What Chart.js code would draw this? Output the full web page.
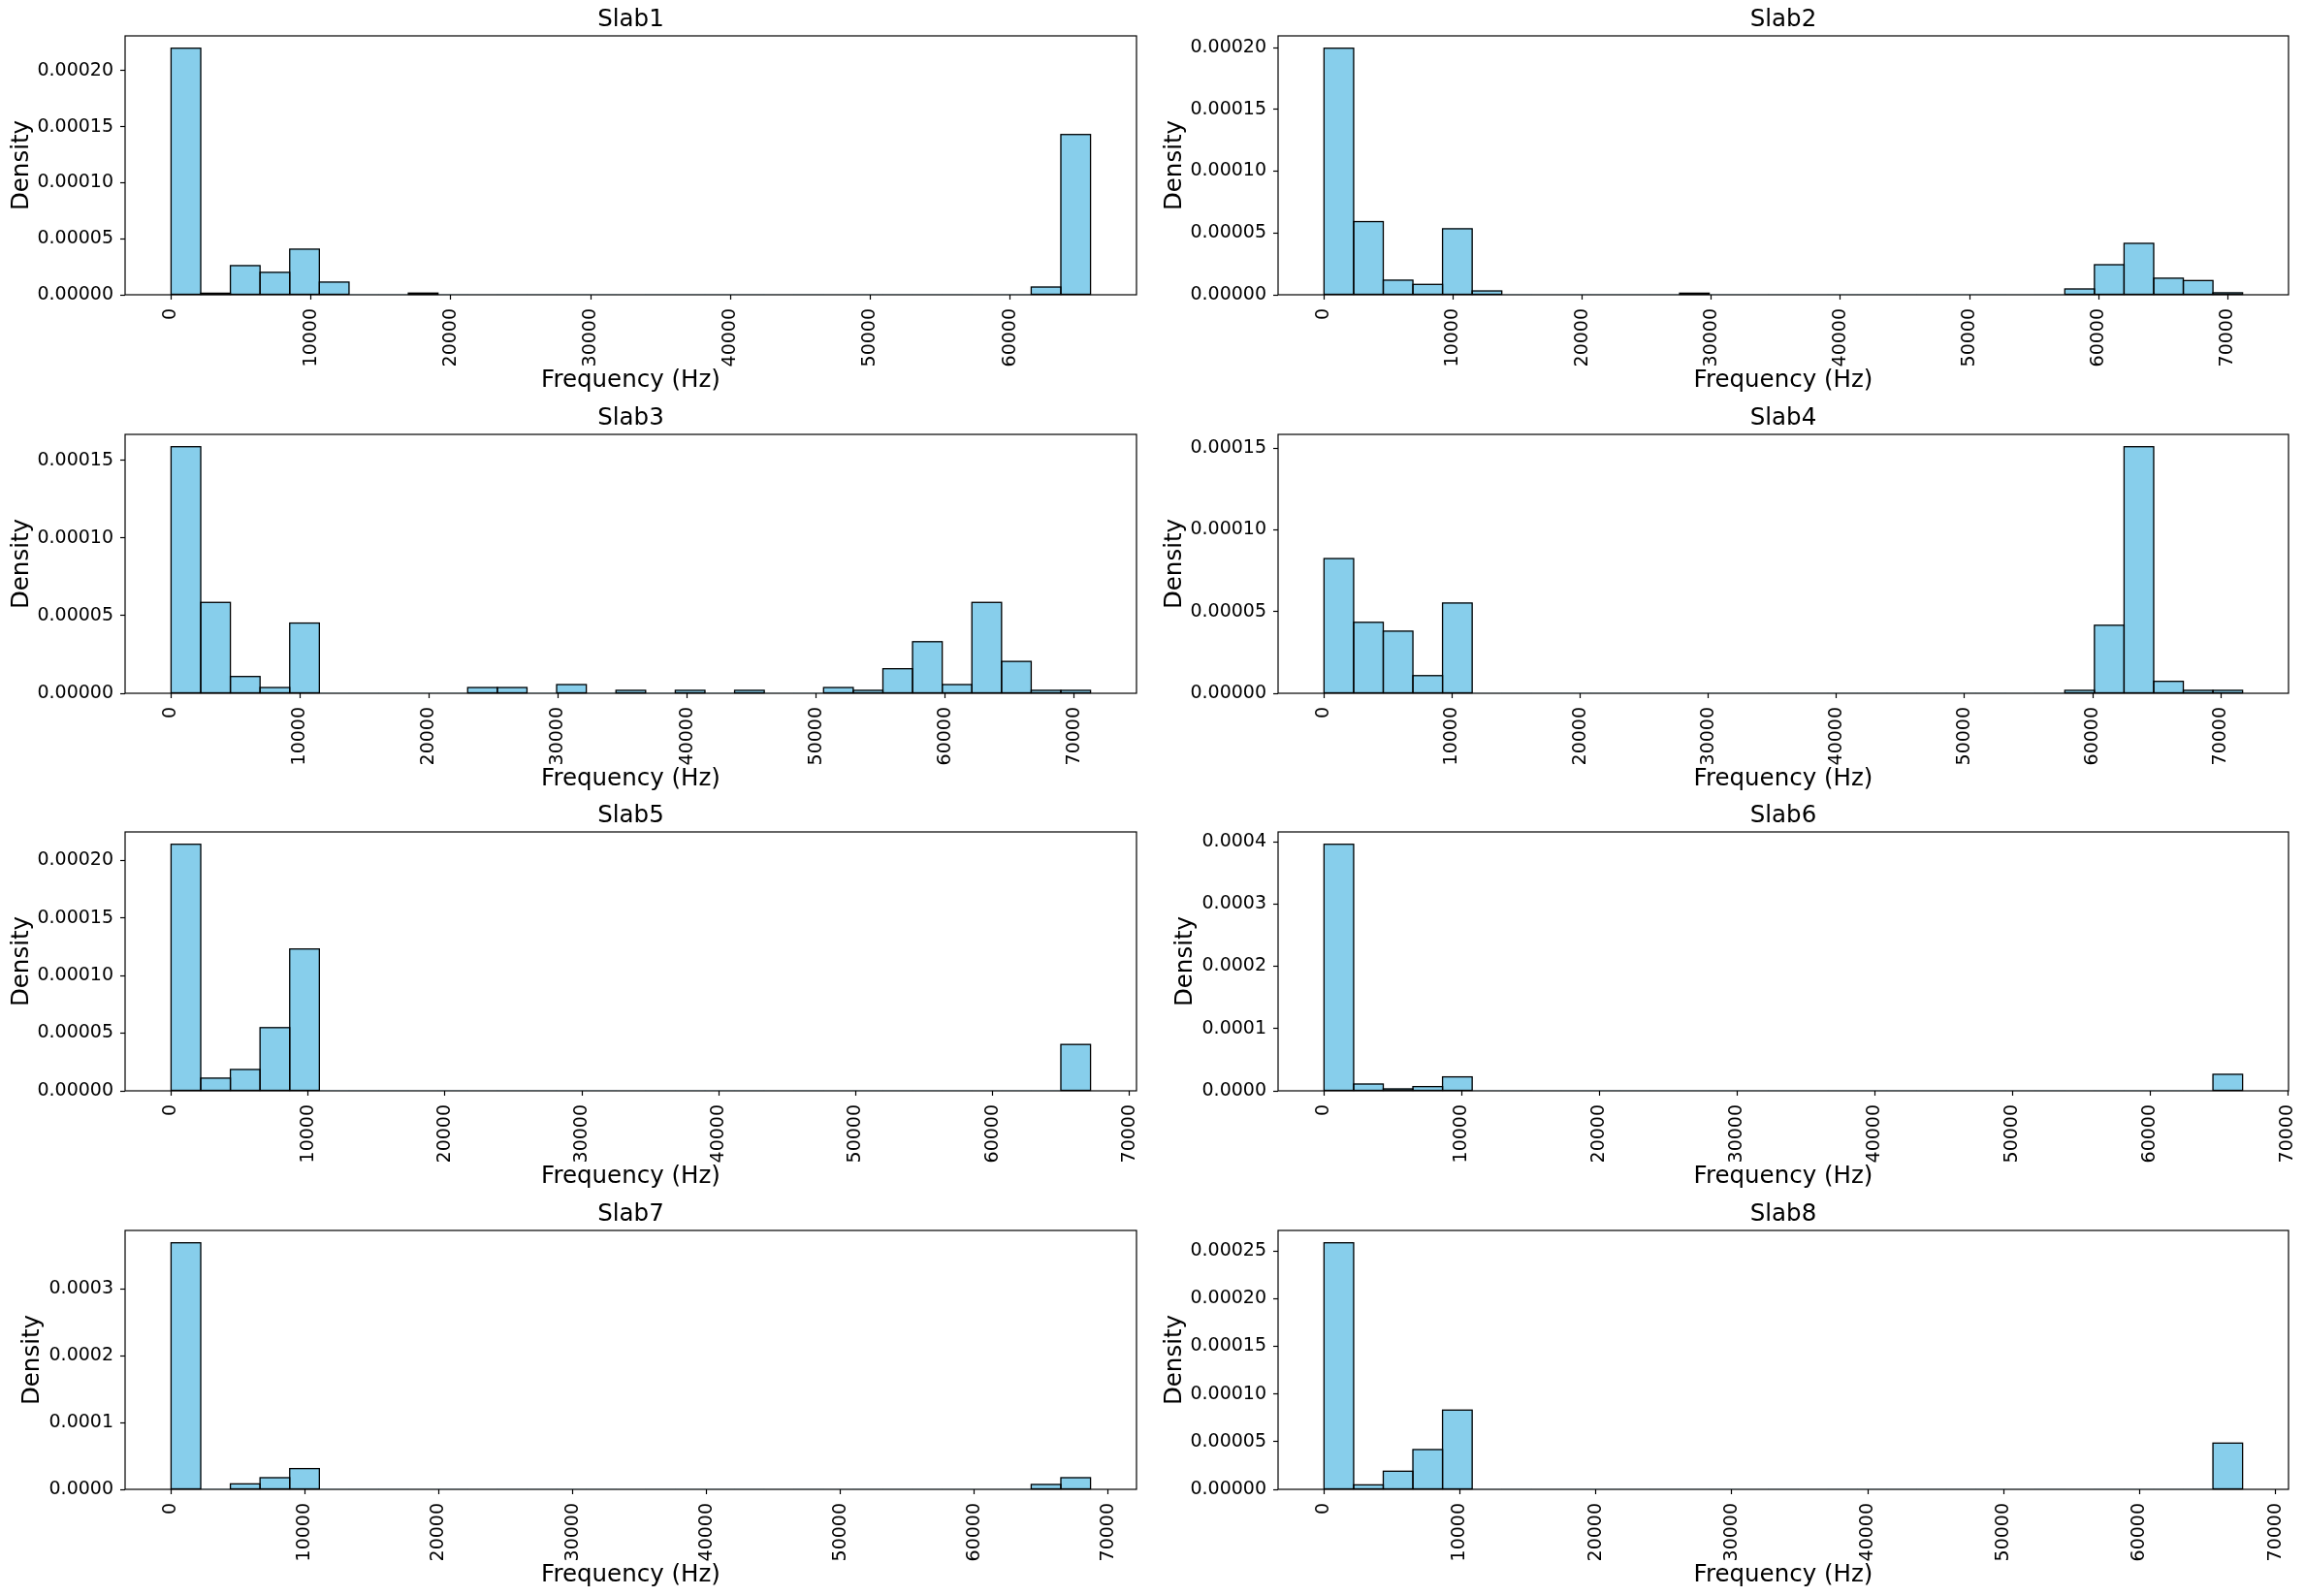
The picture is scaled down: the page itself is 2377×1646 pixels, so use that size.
<!DOCTYPE html>
<html>
<head>
<meta charset="utf-8">
<title>Slab frequency histograms</title>
<script src="https://cdn.jsdelivr.net/npm/chart.js@4.4.1/dist/chart.umd.min.js"></script>
<style>
  html, body { margin: 0; padding: 0; background: #fff; }
  #figure { position: relative; width: 2377px; height: 1646px; overflow: hidden; }
  #figure canvas { position: absolute; }
</style>
</head>
<body>
<div id="figure"></div>
<script>
// ---- data ----
const slabNames = ['Slab1', 'Slab2', 'Slab3', 'Slab4', 'Slab5', 'Slab6', 'Slab7', 'Slab8'];

// histogram range of each slab runs from 0 Hz to this value, split in 31 equal bins
const slabMaxFreq = [65750, 71140, 71270, 71700, 67150, 66700, 68680, 67570];
const binCount = 31;

// density per bin (31 bins each)
const slab1Density = [0.000220, 0.0000014, 0.000026, 0.000020, 0.0000407, 0.0000113, 0, 0, 0.0000015, 0,
  0, 0, 0, 0, 0, 0, 0, 0, 0, 0,
  0, 0, 0, 0, 0, 0, 0, 0, 0, 0.0000069, 0.000143];
const slab2Density = [0.0001995, 0.0000592, 0.0000118, 0.0000084, 0.0000534, 0.0000031, 0, 0, 0, 0,
  0, 0, 0.0000013, 0, 0, 0, 0, 0, 0, 0,
  0, 0, 0, 0, 0, 0.0000047, 0.0000243, 0.0000416, 0.0000134, 0.0000115, 0.0000016];
const slab3Density = [0.0001587, 0.0000585, 0.0000108, 0.0000037, 0.0000452, 0, 0, 0, 0, 0,
  0.0000037, 0.0000037, 0, 0.0000056, 0, 0.0000019, 0, 0.0000019, 0, 0.0000019,
  0, 0, 0.0000037, 0.0000019, 0.0000158, 0.0000332, 0.0000056, 0.0000585, 0.0000205, 0.0000019, 0.0000019];
const slab4Density = [0.0000824, 0.0000434, 0.000038, 0.0000108, 0.0000552, 0, 0, 0, 0, 0,
  0, 0, 0, 0, 0, 0, 0, 0, 0, 0,
  0, 0, 0, 0, 0, 0.0000018, 0.0000416, 0.0001508, 0.0000073, 0.0000018, 0.0000018];
const slab5Density = [0.0002138, 0.000011, 0.0000185, 0.0000548, 0.000123, 0, 0, 0, 0, 0,
  0, 0, 0, 0, 0, 0, 0, 0, 0, 0,
  0, 0, 0, 0, 0, 0, 0, 0, 0, 0, 0.0000402];
const slab6Density = [0.0003958, 0.0000109, 0.0000031, 0.0000068, 0.0000224, 0, 0, 0, 0, 0,
  0, 0, 0, 0, 0, 0, 0, 0, 0, 0,
  0, 0, 0, 0, 0, 0, 0, 0, 0, 0, 0.0000265];
const slab7Density = [0.0003686, 0, 0.0000082, 0.0000174, 0.000031, 0, 0, 0, 0, 0,
  0, 0, 0, 0, 0, 0, 0, 0, 0, 0,
  0, 0, 0, 0, 0, 0, 0, 0, 0, 0.0000073, 0.0000174];
const slab8Density = [0.0002585, 0.0000047, 0.000019, 0.0000417, 0.0000831, 0, 0, 0, 0, 0,
  0, 0, 0, 0, 0, 0, 0, 0, 0, 0,
  0, 0, 0, 0, 0, 0, 0, 0, 0, 0, 0.0000485];

// tick labels
const xTickValues = [0, 10000, 20000, 30000, 40000, 50000, 60000, 70000];
const yTicksSmall = [0, 0.00005, 0.0001, 0.00015];
const yTicksMid = [0, 0.00005, 0.0001, 0.00015, 0.0002];
const yTicksTall = [0, 0.00005, 0.0001, 0.00015, 0.0002, 0.00025];
const yTicksWide = [0, 0.0001, 0.0002, 0.0003, 0.0004];
const yTicksWide3 = [0, 0.0001, 0.0002, 0.0003];

const slabDensity = [slab1Density, slab2Density, slab3Density, slab4Density,
  slab5Density, slab6Density, slab7Density, slab8Density];
const slabYTicks = [yTicksMid, yTicksMid, yTicksSmall, yTicksSmall,
  yTicksMid, yTicksWide, yTicksWide3, yTicksTall];

// ---- drawing ----
Chart.defaults.font.family = "'DejaVu Sans', sans-serif";
Chart.defaults.color = '#000';

// black edge round every non-empty bar, centred on the bar's outline like matplotlib
const barOutline = {
  id: 'barOutline',
  afterDatasetsDraw(chart) {
    const { ctx } = chart;
    const meta = chart.getDatasetMeta(0);
    const values = chart.data.datasets[0].data;
    ctx.save();
    ctx.strokeStyle = '#000';
    ctx.lineWidth = 1.3;
    meta.data.forEach((bar, k) => {
      if (!(values[k].y > 0)) return;
      const { x, y, base, width } = bar.getProps(['x', 'y', 'base', 'width'], true);
      ctx.strokeRect(x - width / 2, y, width, base - y);
    });
    ctx.restore();
  }
};

// box round the plot area and the title above it, like matplotlib axes
const frameAndTitle = {
  id: 'frameAndTitle',
  afterDatasetsDraw(chart) {
    const { ctx, chartArea: a } = chart;
    ctx.save();
    ctx.strokeStyle = '#000';
    ctx.lineWidth = 1.2;
    ctx.strokeRect(a.left, a.top, a.right - a.left, a.bottom - a.top);
    ctx.restore();
  },
  afterDraw(chart, args, opts) {
    const { ctx, chartArea: a } = chart;
    ctx.save();
    ctx.font = "24.5px 'DejaVu Sans'";
    ctx.fillStyle = '#000';
    ctx.textAlign = 'center';
    ctx.textBaseline = 'middle';
    ctx.fillText(opts.text, (a.left + a.right) / 2, 21);
    ctx.restore();
  }
};

const figure = document.getElementById('figure');

slabNames.forEach((name, i) => {
  const col = i % 2;
  const row = Math.floor(i / 2);
  const canvas = document.createElement('canvas');
  const w = col === 0 ? 1190 : 1188;
  canvas.width = w;
  canvas.height = 410;
  canvas.style.left = (col === 0 ? 0 : 1189) + 'px';
  canvas.style.top = Math.round(row * 410.5) + 'px';
  figure.appendChild(canvas);

  const maxF = slabMaxFreq[i];
  const binW = maxF / binCount;
  const dens = slabDensity[i];
  const points = dens.map((d, k) => ({ x: (k + 0.5) * binW, y: d }));
  const yTicks = slabYTicks[i];
  const step = yTicks[1] - yTicks[0];
  const decimals = Math.ceil(-Math.log10(step) - 1e-9);
  const xMin = -0.05 * maxF;
  const xMax = 1.05 * maxF;
  const yMax = 1.05 * Math.max(...dens);

  new Chart(canvas, {
    type: 'bar',
    data: {
      datasets: [{
        data: points,
        backgroundColor: '#87CEEB',
        borderWidth: 0,
        barPercentage: 1,
        categoryPercentage: 1,
        grouped: false
      }]
    },
    options: {
      responsive: false,
      animation: false,
      events: [],
      layout: { padding: { top: 37, right: col === 0 ? 18 : 17, left: 0, bottom: 0 } },
      plugins: {
        legend: { display: false },
        tooltip: { enabled: false },
        frameAndTitle: { text: name }
      },
      scales: {
        x: {
          type: 'linear',
          offset: false,
          min: xMin,
          max: xMax,
          afterBuildTicks: (scale) => {
            scale.ticks = xTickValues.filter(v => v >= xMin && v <= xMax).map(v => ({ value: v }));
          },
          afterFit: (scale) => {
            // fixed axis box so every panel keeps the same plot area
            scale.height = 106;
            scale.paddingLeft = 0;
            scale.paddingRight = 0;
          },
          grid: { display: true, offset: false, drawOnChartArea: false, drawTicks: true,
                  tickLength: 5, tickWidth: 1.2, tickColor: '#000' },
          border: { display: false },
          ticks: {
            autoSkip: false,
            minRotation: 90,
            maxRotation: 90,
            padding: 9,
            font: { size: 19 },
            color: '#000',
            callback: (v) => String(v)
          },
          title: {
            display: true,
            text: 'Frequency (Hz)',
            font: { size: 24.5 },
            color: '#000',
            padding: { top: 0, bottom: 2.3 }
          }
        },
        y: {
          type: 'linear',
          min: 0,
          max: yMax,
          afterBuildTicks: (scale) => {
            scale.ticks = yTicks.map(v => ({ value: v }));
          },
          afterFit: (scale) => { scale.width = 129; },
          grid: { display: true, drawOnChartArea: false, drawTicks: true,
                  tickLength: 5, tickWidth: 1.2, tickColor: '#000' },
          border: { display: false },
          ticks: {
            autoSkip: false,
            padding: 7,
            font: { size: 19 },
            color: '#000',
            callback: (v) => Number(v).toFixed(decimals)
          },
          title: {
            display: true,
            text: 'Density',
            font: { size: 24.5 },
            color: '#000',
            padding: { top: decimals === 5 ? 8.3 : 19.3, bottom: 0 }
          }
        }
      }
    },
    plugins: [barOutline, frameAndTitle]
  });
});
</script>
</body>
</html>
